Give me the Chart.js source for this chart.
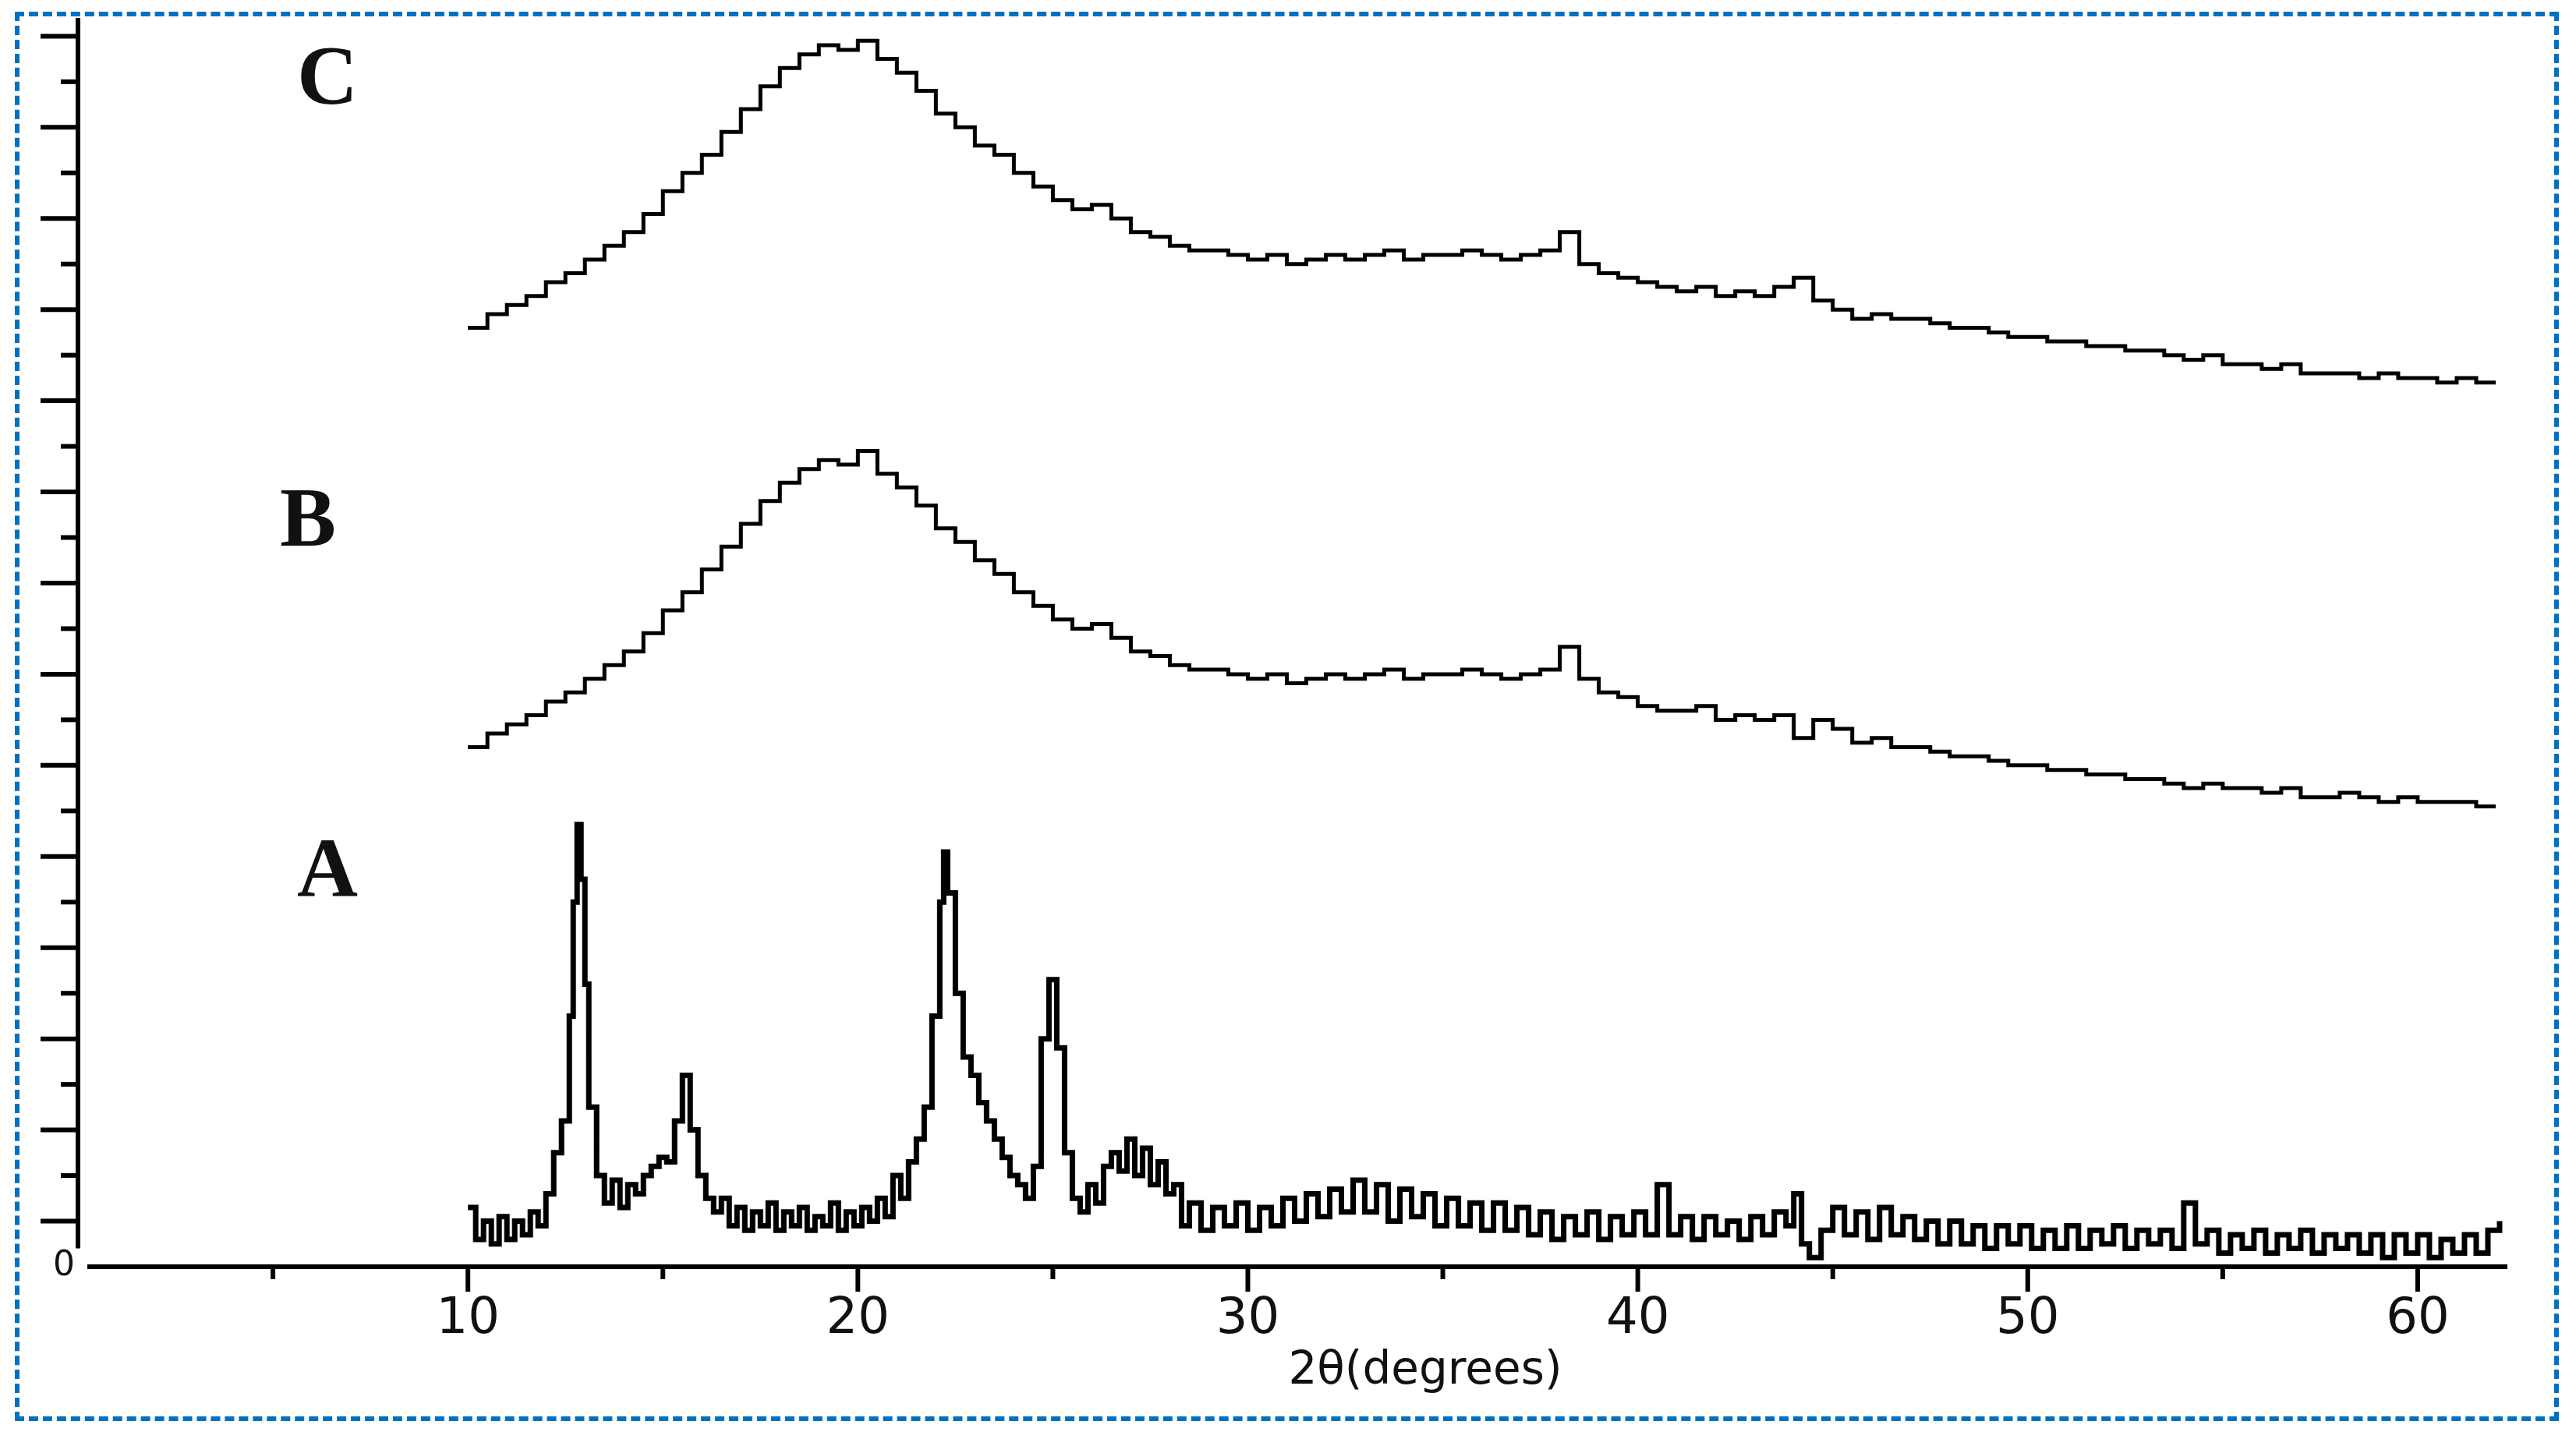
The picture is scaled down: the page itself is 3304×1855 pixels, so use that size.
<!DOCTYPE html>
<html><head><meta charset="utf-8">
<script src="https://cdn.jsdelivr.net/npm/chart.js@4"></script>
<style>
html,body{margin:0;padding:0;background:#fff;}
#wrap{position:absolute;left:0;top:0;width:3304px;height:1855px;}
#frame{position:absolute;left:19px;top:15px;width:3263px;height:1808px;border:6px dashed #0070c0;box-sizing:border-box;pointer-events:none;}
</style></head><body>
<div id="wrap"><canvas id="c"></canvas></div>
<div id="frame"></div>
<script>
// ---- data ----
const gridStart = 10, gridStep = 0.5;
const curveC = [20.6,20.9,21.1,21.3,21.6,21.8,22.1,22.4,22.7,23.1,23.6,24.0,24.4,24.9,25.4,25.9,26.3,26.6,26.8,26.7,26.9,
26.5,26.2,25.8,25.3,25.0,24.6,24.4,24.0,23.7,23.4,
23.2,23.3,23.0,22.7,22.6,22.4,22.3,22.3,22.2,22.1,
22.2,22.0,22.1,22.2,22.1,22.2,22.3,22.1,22.2,22.2,
22.3,22.2,22.1,22.2,22.3,22.7,22.0,21.8,21.7,21.6,
21.5,21.4,21.5,21.3,21.4,21.3,21.5,21.7,21.2,21.0,
20.8,20.9,20.8,20.8,20.7,20.6,20.6,20.5,20.4,20.4,
20.3,20.3,20.2,20.2,20.1,20.1,20.0,19.9,20.0,19.8,
19.8,19.7,19.8,19.6,19.6,19.6,19.5,19.6,19.5,19.5,
19.4,19.5,19.4,19.4];
const curveB = [11.4,11.7,11.9,12.1,12.4,12.6,12.9,13.2,13.5,13.9,14.4,14.8,15.3,15.8,16.3,16.8,17.2,17.5,17.7,17.6,17.9,
17.4,17.1,16.7,16.2,15.9,15.5,15.2,14.8,14.5,14.2,
14.0,14.1,13.8,13.5,13.4,13.2,13.1,13.1,13.0,12.9,
13.0,12.8,12.9,13.0,12.9,13.0,13.1,12.9,13.0,13.0,
13.1,13.0,12.9,13.0,13.1,13.6,12.9,12.6,12.5,12.3,
12.2,12.2,12.3,12.0,12.1,12.0,12.1,11.6,12.0,11.8,
11.5,11.6,11.4,11.4,11.3,11.2,11.2,11.1,11.0,11.0,
10.9,10.9,10.8,10.8,10.7,10.7,10.6,10.5,10.6,10.5,
10.5,10.4,10.5,10.3,10.3,10.4,10.3,10.2,10.3,10.2,
10.2,10.2,10.1,10.1];
const patternA = [[10.0,1.3],[10.2,0.6],[10.4,1.0],[10.6,0.5],[10.8,1.1],[11.0,0.6],[11.2,1.0],[11.4,0.7],[11.6,1.2],[11.8,0.9],[12.0,1.6],[12.2,2.5],[12.4,3.2],[12.6,5.5],[12.7,8.0],[12.8,9.7],[12.9,8.5],[13.0,6.2],[13.1,3.5],[13.3,2.0],[13.5,1.4],[13.7,1.9],[13.9,1.3],[14.1,1.8],[14.3,1.6],[14.5,2.0],[14.7,2.2],[14.9,2.4],[15.1,2.3],[15.3,3.2],[15.5,4.2],[15.7,3.0],[15.9,2.0],[16.1,1.5],[16.3,1.2],[16.5,1.5],[16.7,0.9],[16.9,1.3],[17.1,0.8],[17.3,1.2],[17.5,0.9],[17.7,1.4],[17.9,0.8],[18.1,1.2],[18.3,0.9],[18.5,1.3],[18.7,0.8],[18.9,1.1],[19.1,0.9],[19.3,1.4],[19.5,0.8],[19.7,1.2],[19.9,0.9],[20.1,1.3],[20.3,1.0],[20.5,1.5],[20.7,1.1],[20.9,2.0],[21.1,1.5],[21.3,2.3],[21.5,2.8],[21.7,3.5],[21.9,5.5],[22.1,8.0],[22.2,9.1],[22.3,8.2],[22.5,6.0],[22.7,4.6],[22.9,4.2],[23.1,3.6],[23.3,3.2],[23.5,2.8],[23.7,2.4],[23.9,2.0],[24.1,1.8],[24.3,1.5],[24.5,2.2],[24.7,5.0],[24.9,6.3],[25.1,4.8],[25.3,2.5],[25.5,1.5],[25.7,1.2],[25.9,1.8],[26.1,1.4],[26.3,2.2],[26.5,2.5],[26.7,2.1],[26.9,2.8],[27.1,2.0],[27.3,2.6],[27.5,1.8],[27.7,2.3],[27.9,1.6],[28.1,1.8],[28.3,0.9],[28.5,1.4],[28.8,0.8],[29.1,1.3],[29.4,0.9],[29.7,1.4],[30.0,0.8],[30.3,1.3],[30.6,0.9],[30.9,1.5],[31.2,1.0],[31.5,1.6],[31.8,1.1],[32.1,1.7],[32.4,1.2],[32.7,1.9],[33.0,1.2],[33.3,1.8],[33.6,1.0],[33.9,1.7],[34.2,1.1],[34.5,1.6],[34.8,0.9],[35.1,1.5],[35.4,0.9],[35.7,1.4],[36.0,0.8],[36.3,1.4],[36.6,0.8],[36.9,1.3],[37.2,0.7],[37.5,1.2],[37.8,0.6],[38.1,1.1],[38.4,0.7],[38.7,1.2],[39.0,0.6],[39.3,1.1],[39.6,0.7],[39.9,1.2],[40.2,0.7],[40.5,1.8],[40.8,0.7],[41.1,1.1],[41.4,0.6],[41.7,1.1],[42.0,0.7],[42.3,1.0],[42.6,0.6],[42.9,1.1],[43.2,0.7],[43.5,1.2],[43.8,0.9],[44.0,1.6],[44.2,0.5],[44.4,0.2],[44.7,0.8],[45.0,1.3],[45.3,0.7],[45.6,1.2],[45.9,0.6],[46.2,1.3],[46.5,0.7],[46.8,1.1],[47.1,0.6],[47.4,1.0],[47.7,0.5],[48.0,1.0],[48.3,0.5],[48.6,0.9],[48.9,0.4],[49.2,0.9],[49.5,0.5],[49.8,0.9],[50.1,0.4],[50.4,0.8],[50.7,0.4],[51.0,0.9],[51.3,0.4],[51.6,0.8],[51.9,0.5],[52.2,0.9],[52.5,0.4],[52.8,0.8],[53.1,0.5],[53.4,0.8],[53.7,0.4],[54.0,1.4],[54.3,0.5],[54.6,0.8],[54.9,0.3],[55.2,0.7],[55.5,0.4],[55.8,0.8],[56.1,0.3],[56.4,0.7],[56.7,0.4],[57.0,0.8],[57.3,0.3],[57.6,0.7],[57.9,0.4],[58.2,0.7],[58.5,0.3],[58.8,0.7],[59.1,0.2],[59.4,0.7],[59.7,0.3],[60.0,0.7],[60.3,0.2],[60.6,0.6],[60.9,0.3],[61.2,0.7],[61.5,0.3],[61.8,0.8],[62.1,1.0]];
const seriesLabels = ['A','B','C'];
const labelPos = [[6.4,8.6],[5.9,16.3],[6.4,26.0]];
const xLabelTicks = [10,20,30,40,50,60];
const xTitle = '2θ(degrees)';

const onGrid = arr => arr.map((v,i)=>({x:gridStart+i*gridStep,y:v}));
const ds = (d,w)=>({data:d,borderColor:'#000',borderWidth:w,pointRadius:0,tension:0,stepped:true,fill:false});

const deco = {
  id:'deco',
  afterDraw(ch){
    const c=ch.ctx,xs=ch.scales.x,ys=ch.scales.y,a=ch.chartArea;
    c.save();c.strokeStyle='#000';c.lineWidth=6;
    c.beginPath();c.moveTo(a.left,ys.getPixelForValue(27.4));c.lineTo(a.left,ys.getPixelForValue(0.4));c.stroke();
    for(let v=1;v<=27;v++){const y=ys.getPixelForValue(v);const L=(v%2? 48:22);
      c.beginPath();c.moveTo(a.left-L,y);c.lineTo(a.left,y);c.stroke();}
    c.beginPath();c.moveTo(a.left+12,a.bottom);c.lineTo(a.right,a.bottom);c.stroke();
    for(let v=5;v<=60;v+=5){const x=xs.getPixelForValue(v);const L=(v%10?16:32);
      c.beginPath();c.moveTo(x,a.bottom);c.lineTo(x,a.bottom+L);c.stroke();}
    c.fillStyle='#111';c.textAlign='center';c.textBaseline='middle';
    c.font='64px "DejaVu Sans", Verdana, sans-serif';
    xLabelTicks.forEach(v=>c.fillText(String(v),xs.getPixelForValue(v),a.bottom+68));
    c.font='58px "DejaVu Sans", Verdana, sans-serif';
    c.fillText(xTitle,(a.left+a.right)/2+170,a.bottom+135);
    c.font='44px "DejaVu Sans", sans-serif';c.textAlign='right';
    c.fillText('0',a.left-4,a.bottom);
    c.font='bold 108px "Liberation Serif", "Times New Roman", serif';c.textAlign='center';
    seriesLabels.forEach((t,i)=>c.fillText(t,xs.getPixelForValue(labelPos[i][0]),ys.getPixelForValue(labelPos[i][1])));
    c.restore();
  }
};

new Chart(document.getElementById('c'),{
  type:'line',
  data:{datasets:[ds(patternA.map(p=>({x:p[0],y:p[1]})),7),ds(onGrid(curveB),5),ds(onGrid(curveC),5)]},
  options:{
    responsive:true,maintainAspectRatio:false,animation:false,
    layout:{padding:{left:100,right:88,top:23,bottom:0}},
    plugins:{legend:{display:false},tooltip:{enabled:false}},
    scales:{
      x:{type:'linear',min:0,max:62.3,grid:{display:false},border:{display:false},ticks:{display:false},afterFit:s=>{s.height=230;}},
      y:{min:0,max:27.4,grid:{display:false},border:{display:false},ticks:{display:false},afterFit:s=>{s.width=0;}}
    }
  },
  plugins:[deco]
});
</script></body></html>
